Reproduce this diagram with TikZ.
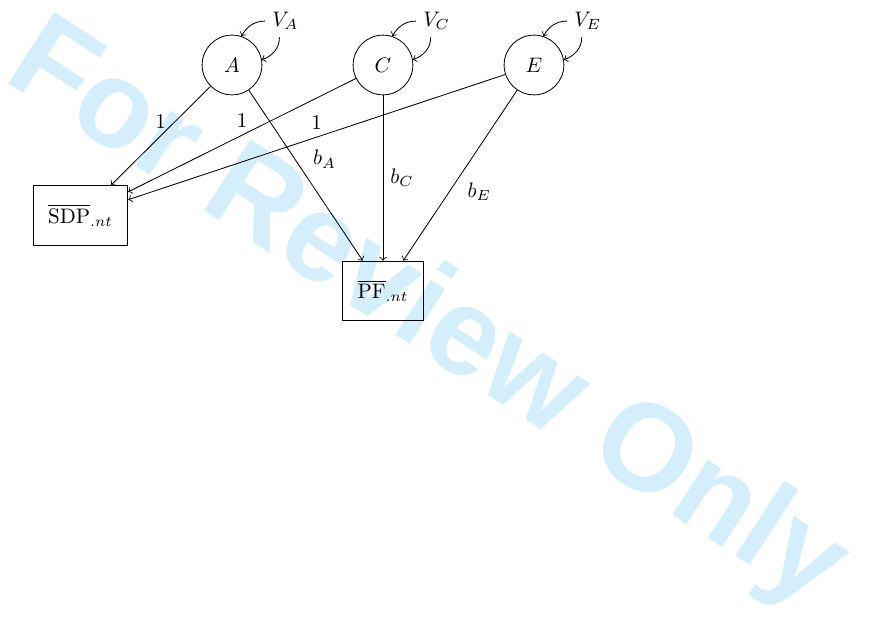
\documentclass[tikz,border=0pt]{standalone}
\usepackage{fontspec}
\usepackage{tikz}
\usetikzlibrary{arrows,shapes,positioning}
\newfontfamily\wmfont{Liberation Sans}
\definecolor{wmblue}{RGB}{212,239,251}

\begin{document}
\begin{tikzpicture}[->,auto,x=0.4762pt,y=-0.4762pt]
\tikzstyle{latent}=[circle,draw=black,minimum size=1cm,inner sep=0pt]
\tikzstyle{obs}=[rectangle,draw=black,minimum height=1cm,inner sep=2.5mm]
\tikzstyle{varlab}=[inner sep=3.33pt]
\tikzstyle{wmark}=[text=wmblue,font=\wmfont\bfseries\fontsize{59}{59}\selectfont,
                   rotate=-33,anchor=base west,inner sep=0pt]
\useasboundingbox (0,0) rectangle (873,623);
\node[wmark] (review) at (1,79) {For Review Only};

\node[latent] (A) at (232,65) {$A$};
\node[latent] (C) at (383,65) {$C$};
\node[latent] (E) at (534,65) {$E$};
\node[varlab] (VA) [above right=3pt and 5.5pt of A] {$V_A$};
\node[varlab] (VC) [above right=3pt and 5.5pt of C] {$V_C$};
\node[varlab] (VE) [above right=3pt and 5.5pt of E] {$V_E$};
\node[obs] (sdp) at (80.5,215.5) {$\overline{\mathrm{SDP}}_{.nt}$};
\node[obs] (pf) at (383,291) {$\overline{\mathrm{PF}}_{.nt}$};

% variances
\draw (VA.west) to[out=180,in=60] (A.72);
\draw (VA.250) to[out=-90,in=20] (A.10);
\draw (VC.west) to[out=180,in=60] (C.72);
\draw (VC.250) to[out=-90,in=20] (C.10);
\draw (VE.west) to[out=180,in=60] (E.72);
\draw (VE.250) to[out=-90,in=20] (E.10);

% loadings
\draw (A) -- node[above] {1} (sdp);
\draw (C) -- node[above] {1} (sdp);
\draw (E) -- node[above] {1} (sdp);
\draw (A) -- node {$b_A$} (pf);
\draw (C) -- node {$b_C$} (pf);
\draw (E) -- node {$b_E$} (pf);
\end{tikzpicture}
\end{document}
